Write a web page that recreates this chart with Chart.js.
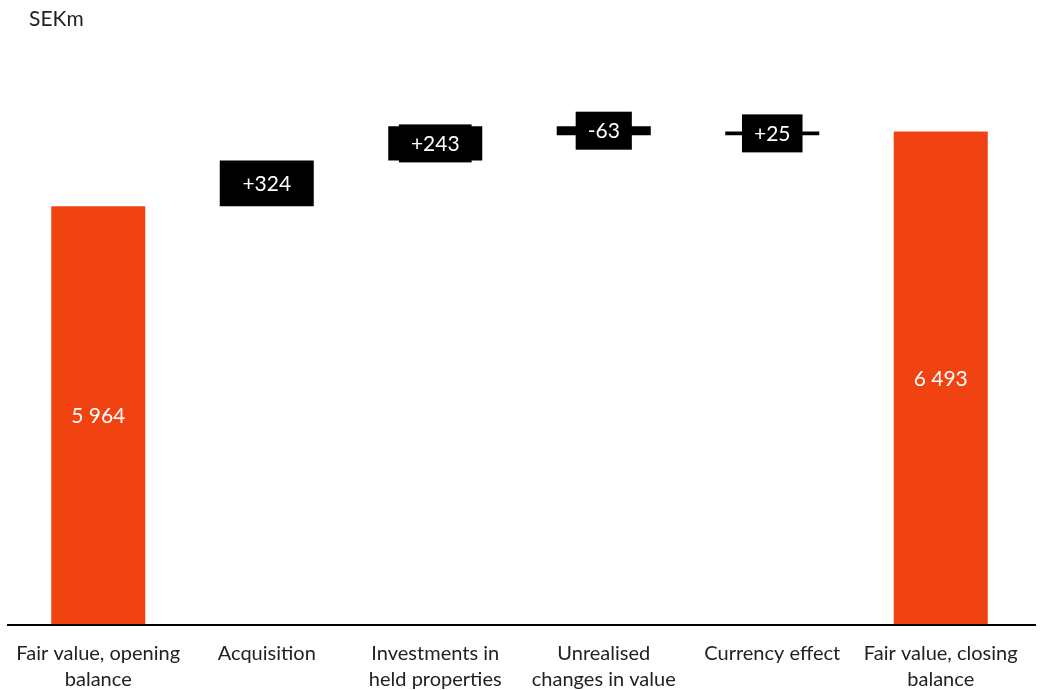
<!DOCTYPE html>
<html>
<head>
<meta charset="utf-8">
<title>Fair value bridge</title>
<script src="https://cdn.jsdelivr.net/npm/chart.js@4/dist/chart.umd.min.js"></script>
<style>
    body { margin: 0; background: #fff; }
    #wrap { position: relative; width: 1043px; height: 690px; }
    #unit {
        position: absolute; left: 29px; top: 5px;
        font: 21px Lato, sans-serif; color: #222;
    }
</style>
</head>
<body>
<div id="wrap">
    <div id="unit">SEKm</div>
    <canvas id="bridgeChart" width="1043" height="690"></canvas>
</div>
<script>
// Categories on the x axis (multi-line labels)
const categories = [
    ['Fair value, opening', 'balance'],
    'Acquisition',
    ['Investments in', 'held properties'],
    ['Unrealised', 'changes in value'],
    'Currency effect',
    ['Fair value, closing', 'balance']
];

// Opening and closing balances, SEKm
const openingBalance = 5964;
const closingBalance = 6493;

// Changes during the period, SEKm
const changes = [324, 243, -63, 25];

// Visible range of the value axis
const yMin = 3000;
const yMax = 7000;

const orange = '#F04311';
const black = '#000000';

document.addEventListener("DOMContentLoaded", function () {
    const ctx = document.getElementById('bridgeChart').getContext('2d');

    // Running total: each change floats from the previous level
    const barData = [openingBalance];
    let level = openingBalance;
    changes.forEach(function (c) {
        barData.push([level, level + c]);
        level += c;
    });
    barData.push(closingBalance);

    const colors = barData.map(function (d) {
        return Array.isArray(d) ? black : orange;
    });

    function fmtTotal(v) {
        return String(v).replace(/\B(?=(\d{3})+(?!\d))/g, ' ');
    }
    function fmtChange(v) {
        return (v > 0 ? '+' : '') + v;
    }

    // Value labels: white text inside totals, black tag on changes
    const valueLabels = {
        id: 'valueLabels',
        afterDatasetsDraw(chart) {
            const c = chart.ctx;
            const meta = chart.getDatasetMeta(0);
            const bottom = chart.chartArea.bottom;
            c.save();
            c.font = '21px Lato, sans-serif';
            c.textAlign = 'center';
            c.textBaseline = 'middle';
            meta.data.forEach(function (bar, i) {
                const x = bar.x;
                const y = (bar.y + Math.min(bar.base, bottom)) / 2;
                let text;
                if (i === 0) text = fmtTotal(openingBalance);
                else if (i === meta.data.length - 1) text = fmtTotal(closingBalance);
                else {
                    text = fmtChange(changes[i - 1]);
                    const w = c.measureText(text).width + 24;
                    c.fillStyle = black;
                    c.fillRect(x - w / 2, y - 19, w, 38);
                }
                c.fillStyle = '#ffffff';
                c.fillText(text, x, y + 1);
            });
            c.restore();
        }
    };

    // Baseline under the bars, a little wider than the plot area
    const baseline = {
        id: 'baseline',
        afterDraw(chart) {
            const c = chart.ctx;
            const area = chart.chartArea;
            c.save();
            c.strokeStyle = black;
            c.lineWidth = 2;
            c.beginPath();
            c.moveTo(7, area.bottom);
            c.lineTo(1036, area.bottom);
            c.stroke();
            c.restore();
        }
    };

    new Chart(ctx, {
        type: 'bar',
        data: {
            labels: categories,
            datasets: [{
                data: barData,
                backgroundColor: colors,
                borderWidth: 0,
                barPercentage: 0.558,
                categoryPercentage: 1
            }]
        },
        options: {
            responsive: false,
            animation: false,
            layout: {
                padding: { top: 60, left: 14, right: 18, bottom: 0 }
            },
            plugins: {
                legend: { display: false },
                tooltip: { enabled: false }
            },
            scales: {
                x: {
                    grid: { display: false },
                    border: { display: false },
                    afterFit: function (scale) { scale.height = 65; },
                    ticks: {
                        padding: 8,
                        color: '#222',
                        maxRotation: 0,
                        autoSkip: false,
                        font: { family: 'Lato, sans-serif', size: 20, lineHeight: 1.3 }
                    }
                },
                y: {
                    display: false,
                    min: yMin,
                    max: yMax
                }
            }
        },
        plugins: [valueLabels, baseline]
    });
});
</script>
</body>
</html>
